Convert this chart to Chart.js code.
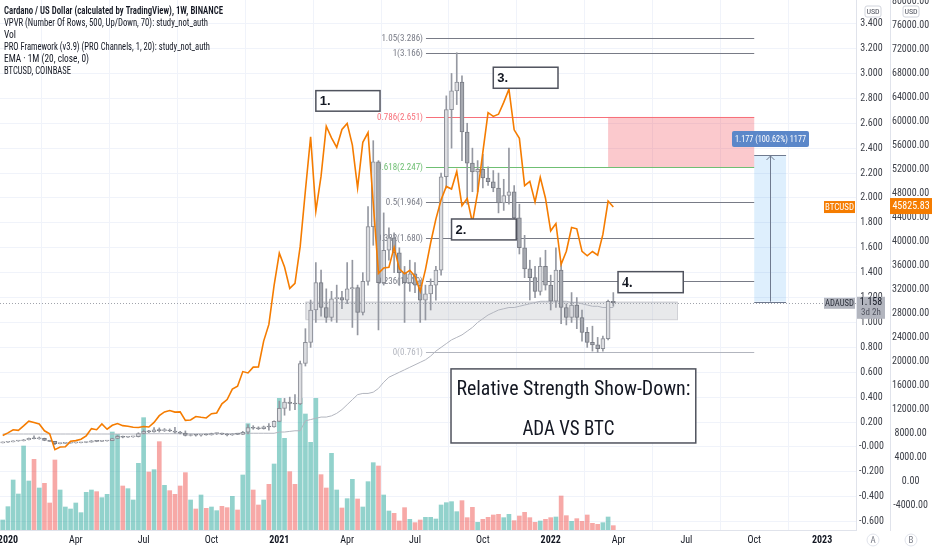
<!DOCTYPE html>
<html lang="en">
<head>
<meta charset="UTF-8">
<title>Cardano / US Dollar - Relative Strength Show-Down</title>
<script src="https://cdn.jsdelivr.net/npm/chart.js@4.4.1/dist/chart.umd.min.js"></script>
<style>
  html, body { margin: 0; padding: 0; background: #ffffff; }
  #chart { display: block; }
</style>
</head>
<body>
<canvas id="chart" width="932" height="550"></canvas>
<script>
// weekly bars, week index 0 = week of 30 Dec 2019 ... 117 = week of 28 Mar 2022
var adaOpen = [0.033, 0.038, 0.041, 0.048, 0.050, 0.058, 0.069, 0.066, 0.070, 0.052,
  0.045, 0.027, 0.029, 0.031, 0.033, 0.034, 0.036, 0.039, 0.049, 0.045,
  0.048, 0.051, 0.068, 0.086, 0.078, 0.081, 0.083, 0.108, 0.126, 0.121,
  0.138, 0.131, 0.135, 0.128, 0.119, 0.111, 0.092, 0.099, 0.094, 0.097,
  0.096, 0.108, 0.110, 0.103, 0.096, 0.104, 0.101, 0.118, 0.155, 0.150,
  0.146, 0.162, 0.160, 0.206, 0.310, 0.360, 0.350, 0.345, 0.670, 0.840,
  1.100, 1.320, 1.120, 1.040, 1.190, 1.200, 1.180, 1.270, 1.280, 1.080,
  1.330, 1.770, 2.290, 1.320, 1.580, 1.680, 1.560, 1.400, 1.320, 1.390,
  1.300, 1.180, 1.230, 1.300, 1.420, 2.170, 2.710, 2.860, 2.930, 2.530,
  2.280, 2.210, 2.230, 2.160, 2.130, 2.080, 1.960, 2.020, 2.050, 1.840,
  1.600, 1.430, 1.360, 1.250, 1.450, 1.300, 1.170, 1.420, 1.120, 1.040,
  1.140, 1.040, 0.920, 0.840, 0.820, 0.790, 0.870, 1.170];
var adaHigh = [0.040, 0.042, 0.050, 0.052, 0.060, 0.072, 0.090, 0.080, 0.071, 0.054,
  0.046, 0.032, 0.033, 0.035, 0.036, 0.037, 0.040, 0.052, 0.051, 0.050,
  0.053, 0.070, 0.092, 0.088, 0.085, 0.086, 0.114, 0.138, 0.133, 0.155,
  0.153, 0.148, 0.145, 0.157, 0.125, 0.129, 0.104, 0.101, 0.099, 0.105,
  0.111, 0.114, 0.111, 0.108, 0.107, 0.107, 0.125, 0.179, 0.171, 0.162,
  0.168, 0.187, 0.210, 0.368, 0.390, 0.400, 0.420, 0.690, 0.950, 1.180,
  1.480, 1.420, 1.270, 1.250, 1.300, 1.250, 1.480, 1.500, 1.300, 1.400,
  1.930, 2.460, 2.300, 1.880, 1.760, 1.720, 1.600, 1.450, 1.500, 1.480,
  1.340, 1.300, 1.350, 1.450, 2.200, 2.820, 3.000, 3.166, 2.980, 2.600,
  2.400, 2.300, 2.350, 2.250, 2.220, 2.200, 2.150, 2.400, 2.100, 1.950,
  1.700, 1.500, 1.450, 1.520, 1.580, 1.380, 1.600, 1.480, 1.150, 1.240,
  1.200, 1.100, 0.960, 0.970, 0.880, 0.890, 1.180, 1.240];
var adaLow = [0.032, 0.037, 0.040, 0.045, 0.048, 0.056, 0.064, 0.062, 0.050, 0.044,
  0.018, 0.024, 0.026, 0.030, 0.031, 0.032, 0.034, 0.038, 0.042, 0.043,
  0.047, 0.050, 0.066, 0.073, 0.076, 0.078, 0.080, 0.105, 0.115, 0.118,
  0.120, 0.124, 0.123, 0.110, 0.105, 0.088, 0.088, 0.087, 0.086, 0.094,
  0.095, 0.100, 0.099, 0.088, 0.093, 0.099, 0.100, 0.105, 0.142, 0.140,
  0.143, 0.134, 0.158, 0.205, 0.255, 0.294, 0.300, 0.340, 0.650, 0.800,
  1.000, 1.050, 1.000, 1.010, 1.000, 1.110, 1.150, 0.960, 0.900, 1.060,
  1.300, 1.620, 0.940, 1.300, 1.500, 1.400, 1.300, 1.000, 1.250, 1.240,
  1.000, 1.020, 1.100, 1.180, 1.380, 2.080, 2.400, 2.750, 2.300, 1.950,
  2.050, 2.050, 2.080, 2.100, 2.050, 1.880, 1.900, 1.950, 1.780, 1.550,
  1.360, 1.180, 1.200, 1.220, 1.260, 1.100, 1.120, 0.990, 0.980, 1.000,
  0.950, 0.850, 0.800, 0.770, 0.761, 0.770, 0.860, 1.130];
var adaClose = [0.038, 0.041, 0.048, 0.050, 0.058, 0.069, 0.066, 0.070, 0.052, 0.045,
  0.027, 0.029, 0.031, 0.033, 0.034, 0.036, 0.039, 0.049, 0.045, 0.048,
  0.051, 0.068, 0.086, 0.078, 0.081, 0.083, 0.108, 0.126, 0.121, 0.138,
  0.131, 0.135, 0.128, 0.119, 0.111, 0.092, 0.099, 0.094, 0.097, 0.096,
  0.108, 0.110, 0.103, 0.096, 0.104, 0.101, 0.118, 0.155, 0.150, 0.146,
  0.162, 0.160, 0.206, 0.310, 0.360, 0.350, 0.345, 0.670, 0.840, 1.100,
  1.320, 1.120, 1.040, 1.190, 1.200, 1.180, 1.270, 1.280, 1.080, 1.330,
  1.770, 2.290, 1.320, 1.580, 1.680, 1.560, 1.400, 1.320, 1.390, 1.300,
  1.180, 1.230, 1.300, 1.420, 2.170, 2.710, 2.860, 2.930, 2.530, 2.280,
  2.210, 2.230, 2.160, 2.130, 2.080, 1.960, 2.020, 2.050, 1.840, 1.600,
  1.430, 1.360, 1.250, 1.450, 1.300, 1.170, 1.420, 1.120, 1.040, 1.140,
  1.040, 0.920, 0.840, 0.820, 0.790, 0.870, 1.170, 1.158];
var adaVolume = [30, 70, 150, 108, 252, 147, 212, 126, 140, 81,
  210, 120, 69, 63, 81, 52, 113, 120, 115, 97,
  107, 294, 287, 132, 124, 90, 200, 337, 174, 181,
  265, 134, 118, 107, 132, 172, 90, 63, 105, 65,
  69, 58, 71, 67, 101, 60, 165, 319, 120, 75,
  90, 137, 198, 395, 275, 175, 137, 395, 348, 263,
  395, 166, 126, 230, 120, 66, 94, 152, 93, 69,
  145, 202, 192, 105, 57, 50, 27, 67, 32, 22,
  30, 38, 38, 33, 75, 82, 85, 55, 88, 37,
  68, 23, 32, 38, 45, 47, 37, 47, 28, 42,
  53, 37, 23, 27, 32, 37, 39, 102, 43, 26,
  34, 26, 45, 20, 17, 22, 39, 13];
// EMA 1M (20, close) of ADA, sampled on the weekly bars
var adaEma = [0.104, 0.104, 0.104, 0.104, 0.104, 0.104, 0.104, 0.104, 0.104, 0.104,
  0.104, 0.104, 0.104, 0.104, 0.104, 0.104, 0.104, 0.104, 0.104, 0.104,
  0.104, 0.104, 0.104, 0.104, 0.104, 0.104, 0.104, 0.106, 0.106, 0.106,
  0.106, 0.106, 0.106, 0.106, 0.106, 0.106, 0.106, 0.106, 0.106, 0.106,
  0.106, 0.106, 0.106, 0.106, 0.106, 0.110, 0.110, 0.110, 0.110, 0.110,
  0.110, 0.110, 0.110, 0.120, 0.120, 0.125, 0.130, 0.130, 0.210, 0.220,
  0.230, 0.240, 0.240, 0.250, 0.270, 0.300, 0.340, 0.380, 0.420, 0.430,
  0.430, 0.440, 0.470, 0.520, 0.560, 0.580, 0.600, 0.620, 0.640, 0.660,
  0.680, 0.700, 0.730, 0.770, 0.800, 0.830, 0.860, 0.880, 0.900, 0.930,
  0.960, 1.000, 1.030, 1.060, 1.080, 1.100, 1.110, 1.120, 1.120, 1.130,
  1.140, 1.150, 1.160, 1.170, 1.170, 1.170, 1.170, 1.170, 1.170, 1.160,
  1.160, 1.150, 1.140, 1.130, 1.130, 1.120, 1.120, 1.120];
// BTCUSD (Coinbase) weekly close
var btcClose = [7760, 8180, 8700, 8600, 9340, 10140, 9900, 9670, 8530, 8040,
  5390, 5830, 5880, 6780, 6900, 7120, 7700, 8900, 8720, 9670,
  8790, 9450, 9750, 9390, 9300, 9120, 9080, 9250, 9170, 9930,
  11060, 11680, 11910, 11650, 11680, 10280, 10330, 10920, 10780, 10670,
  11380, 11500, 13030, 13740, 15480, 15960, 18400, 18180, 19150, 19170,
  23480, 26270, 32780, 38150, 35830, 32260, 33110, 39270, 48580, 57540,
  45140, 50970, 59300, 57350, 55780, 58760, 59770, 56150, 49010, 56620,
  58230, 46430, 34770, 35680, 35800, 39100, 35510, 34700, 35290, 34260,
  31780, 35400, 39870, 43810, 47050, 49260, 48830, 51750, 46060, 47270,
  43210, 48230, 54970, 61550, 60930, 61300, 63270, 65470, 58700, 57270,
  49400, 50100, 46680, 50780, 47300, 41860, 43080, 36270, 38470, 42410,
  42200, 38430, 37700, 38420, 37800, 41260, 46820, 45825.83];

// time axis: first weekly bar of each labelled month
var tickWeeks = [1, 14, 27, 40, 53, 66, 79, 92, 105, 118, 131, 144, 157];
var tickLabels = ['2020', 'Apr', 'Jul', 'Oct', '2021', 'Apr', 'Jul', 'Oct', '2022', 'Apr', 'Jul', 'Oct', '2023'];
var adaTicks = [-0.6, -0.4, -0.2, 0, 0.2, 0.4, 0.6, 0.8, 1.0, 1.2, 1.4, 1.6, 1.8, 2.0, 2.2, 2.4, 2.6, 2.8, 3.0, 3.2, 3.4];
var btcTicks = [-4000, 0, 4000, 8000, 12000, 16000, 20000, 24000, 28000, 32000, 36000, 40000,
  44000, 48000, 52000, 56000, 60000, 64000, 68000, 72000, 76000, 80000];

// fib retracement drawn on the chart
var fibRatios = [1.05, 1, 0.786, 0.618, 0.5, 0.382, 0.236, 0];
var fibPrices = [3.286, 3.166, 2.651, 2.247, 1.964, 1.680, 1.329, 0.761];

var legendLines = [
  'Cardano / US Dollar (calculated by TradingView), 1W, BINANCE',
  'VPVR (Number Of Rows, 500, Up/Down, 70): study_not_auth',
  'Vol',
  'PRO Framework (v3.9) (PRO Channels, 1, 20): study_not_auth',
  'EMA \u00b7 1M (20, close, 0)',
  'BTCUSD, COINBASE'
];

// drawings, placed in (week, price) units
var drawings = {
  zone: { from: 58, to: 129.2, low: 1.026, high: 1.167 },
  target: { from: 116, to: 144, low: 2.247, high: 2.651 },
  measure: { from: 144, to: 150.1, low: 1.167, high: 2.345, text: '1.177 (100.62%) 1177' },
  fib: { from: 81.1, to: 144 },
  notes: [
    { text: '1.', from: 60.0, to: 72.3, top: 2.862, bottom: 2.697 },
    { text: '2.', from: 86.0, to: 98.4, top: 1.831, bottom: 1.663 },
    { text: '3.', from: 94.0, to: 106.4, top: 3.050, bottom: 2.881 },
    { text: '4.', from: 117.9, to: 130.4, top: 1.408, bottom: 1.239, serif: true }
  ],
  banner: { from: 85.9, to: 132.8, top: 0.627, bottom: 0.032,
    lines: ['Relative Strength Show-Down:', 'ADA VS BTC'] }
};

var fibColors = ['#787b86', '#787b86', '#f7707a', '#6fbf73', '#787b86', '#787b86', '#787b86', '#b2b5be'];
var NARROW = "'Liberation Sans Narrow', 'Roboto Condensed', Roboto, sans-serif";

function isUp(i) { return adaClose[i] >= adaOpen[i]; }

// scales must not reserve room for their end labels: the plot fills the canvas
function noPad(s) { s.paddingTop = 0; s.paddingBottom = 0; s.paddingLeft = 0; s.paddingRight = 0; }

var overlay = {
  id: 'overlay',
  beforeDatasetsDraw: function (chart) {
    var ctx = chart.ctx, a = chart.chartArea;
    var sx = chart.scales.x, sy = chart.scales.ada;
    ctx.save();
    ctx.beginPath();
    ctx.rect(a.left, a.top, a.right - a.left, a.bottom - a.top);
    ctx.clip();

    // support zone
    var z = drawings.zone;
    var zx0 = sx.getPixelForValue(z.from), zx1 = sx.getPixelForValue(z.to);
    var zy0 = sy.getPixelForValue(z.high), zy1 = sy.getPixelForValue(z.low);
    ctx.fillStyle = 'rgba(178,181,190,0.30)';
    ctx.fillRect(zx0, zy0, zx1 - zx0, zy1 - zy0);
    ctx.strokeStyle = 'rgba(150,153,163,0.45)';
    ctx.lineWidth = 1;
    ctx.strokeRect(zx0 + 0.5, zy0 + 0.5, zx1 - zx0, zy1 - zy0);

    // target zone
    var t = drawings.target;
    var tx0 = sx.getPixelForValue(t.from), tx1 = sx.getPixelForValue(t.to);
    var ty0 = sy.getPixelForValue(t.high), ty1 = sy.getPixelForValue(t.low);
    ctx.fillStyle = 'rgba(242,54,69,0.27)';
    ctx.fillRect(tx0, ty0, tx1 - tx0, ty1 - ty0);

    // fib levels
    var fx0 = sx.getPixelForValue(drawings.fib.from), fx1 = sx.getPixelForValue(drawings.fib.to);
    ctx.font = '9px ' + NARROW;
    ctx.textAlign = 'right';
    ctx.textBaseline = 'middle';
    fibRatios.forEach(function (r, k) {
      var y = Math.round(sy.getPixelForValue(fibPrices[k])) + 0.5;
      ctx.strokeStyle = fibColors[k];
      ctx.beginPath();
      ctx.moveTo(fx0, y);
      ctx.lineTo(fx1, y);
      ctx.stroke();
      ctx.fillStyle = fibColors[k];
      ctx.fillText(r + '(' + fibPrices[k].toFixed(3) + ')', fx0 - 3, y);
    });

    // last price line
    var py = Math.round(sy.getPixelForValue(adaClose[adaClose.length - 1])) + 0.5;
    ctx.setLineDash([1, 2]);
    ctx.strokeStyle = '#a0a3ab';
    ctx.beginPath();
    ctx.moveTo(a.left, py);
    ctx.lineTo(a.right, py);
    ctx.stroke();
    ctx.setLineDash([]);
    ctx.restore();
  },
  afterDatasetsDraw: function (chart) {
    var ctx = chart.ctx, a = chart.chartArea;
    var sx = chart.scales.x, sy = chart.scales.ada;
    ctx.save();

    // price range measure
    var m = drawings.measure;
    var mx0 = sx.getPixelForValue(m.from), mx1 = sx.getPixelForValue(m.to);
    var my0 = sy.getPixelForValue(m.high), my1 = sy.getPixelForValue(m.low);
    var mxc = Math.round((mx0 + mx1) / 2) + 0.5;
    ctx.fillStyle = 'rgba(33,150,243,0.15)';
    ctx.fillRect(mx0, my0, mx1 - mx0, my1 - my0);
    ctx.strokeStyle = '#6f7a8f';
    ctx.lineWidth = 1;
    ctx.beginPath();
    ctx.moveTo(mx0, Math.round(my0) + 0.5); ctx.lineTo(mx1, Math.round(my0) + 0.5);
    ctx.moveTo(mx0, Math.round(my1) + 0.5); ctx.lineTo(mx1, Math.round(my1) + 0.5);
    ctx.moveTo(mxc, my1); ctx.lineTo(mxc, my0 + 1);
    ctx.moveTo(mxc - 4, my0 + 5); ctx.lineTo(mxc, my0 + 1); ctx.lineTo(mxc + 4, my0 + 5);
    ctx.stroke();
    ctx.font = '9px ' + NARROW;
    var lw = 77, lh = 16;
    ctx.fillStyle = '#5b87c9';
    roundRect(ctx, mxc - lw / 2, my0 - 24, lw, lh, 2);
    ctx.fill();
    ctx.fillStyle = '#ffffff';
    ctx.textAlign = 'center';
    ctx.textBaseline = 'middle';
    ctx.fillText(m.text, mxc, my0 - 24 + lh / 2 + 0.5, lw - 6);

    // numbered notes
    drawings.notes.forEach(function (n) {
      var x0 = sx.getPixelForValue(n.from), x1 = sx.getPixelForValue(n.to);
      var y0 = sy.getPixelForValue(n.top), y1 = sy.getPixelForValue(n.bottom);
      ctx.fillStyle = '#ffffff';
      ctx.fillRect(x0, y0, x1 - x0, y1 - y0);
      ctx.strokeStyle = '#50535e';
      ctx.lineWidth = 1.5;
      ctx.strokeRect(x0, y0, x1 - x0, y1 - y0);
      ctx.fillStyle = '#131722';
      ctx.font = n.serif ? "bold 14px 'Liberation Serif', serif" : "bold 13px 'Liberation Sans', Arial, sans-serif";
      ctx.textAlign = 'left';
      ctx.textBaseline = 'middle';
      ctx.fillText(n.text, x0 + 4, (y0 + y1) / 2 + 1);
    });

    // banner
    var b = drawings.banner;
    var bx0 = sx.getPixelForValue(b.from), bx1 = sx.getPixelForValue(b.to);
    var by0 = sy.getPixelForValue(b.top), by1 = sy.getPixelForValue(b.bottom);
    ctx.fillStyle = '#ffffff';
    ctx.fillRect(bx0, by0, bx1 - bx0, by1 - by0);
    ctx.strokeStyle = '#50535e';
    ctx.lineWidth = 1.5;
    ctx.strokeRect(bx0, by0, bx1 - bx0, by1 - by0);
    ctx.fillStyle = '#131722';
    ctx.font = '20px ' + NARROW;
    ctx.textAlign = 'center';
    ctx.textBaseline = 'alphabetic';
    var bc = (bx0 + bx1) / 2;
    ctx.fillText(b.lines[0], bc, by0 + 26, 234);
    ctx.fillText(b.lines[1], bc - 5, by0 + 66, 92);

    // pane price labels
    var btcY = chart.scales.btc.getPixelForValue(btcClose[btcClose.length - 1]);
    var adaY = sy.getPixelForValue(adaClose[adaClose.length - 1]);
    ctx.font = '9px ' + NARROW;
    ctx.textAlign = 'center';
    ctx.textBaseline = 'middle';
    ctx.fillStyle = '#f57c00';
    ctx.fillRect(a.right - 32, btcY - 6, 31, 12);
    ctx.fillStyle = '#ffffff';
    ctx.fillText('BTCUSD', a.right - 16.5, btcY + 0.5, 29);
    ctx.fillStyle = '#b2b5be';
    ctx.fillRect(a.right - 32, adaY - 5, 31, 11);
    ctx.fillStyle = '#2a2e39';
    ctx.fillText('ADAUSD', a.right - 16.5, adaY + 0.5, 29);
    ctx.restore();
  },
  afterDraw: function (chart) {
    var ctx = chart.ctx;
    var ya = chart.scales.ada, yb = chart.scales.btc;
    ctx.save();
    ctx.textAlign = 'center';
    ctx.textBaseline = 'middle';

    // axis price labels
    var btcY = yb.getPixelForValue(btcClose[btcClose.length - 1]);
    ctx.fillStyle = '#f57c00';
    ctx.fillRect(yb.left, btcY - 9, yb.right - yb.left, 16);
    ctx.fillStyle = '#ffffff';
    ctx.font = '10px ' + NARROW;
    ctx.fillText(btcClose[btcClose.length - 1].toFixed(2), (yb.left + yb.right) / 2, btcY - 1, 38);

    var adaY = ya.getPixelForValue(adaClose[adaClose.length - 1]);
    ctx.fillStyle = '#b2b5be';
    ctx.fillRect(ya.left + 1, adaY - 6, ya.right - ya.left - 6, 22);
    ctx.fillStyle = '#131722';
    ctx.fillText(adaClose[adaClose.length - 1].toFixed(3), (ya.left + ya.right) / 2 - 2, adaY, 26);
    ctx.fillStyle = '#50535e';
    ctx.font = '9px ' + NARROW;
    ctx.fillText('3d 2h', (ya.left + ya.right) / 2 - 2, adaY + 10, 26);

    // currency tags on the axes
    [ya, yb].forEach(function (s) {
      var cx = (s.left + s.right) / 2;
      ctx.fillStyle = '#ffffff';
      roundRect(ctx, cx - 8, 6, 16, 11, 2);
      ctx.fill();
      ctx.strokeStyle = '#d1d4dc';
      ctx.lineWidth = 1;
      ctx.stroke();
      ctx.fillStyle = '#50535e';
      ctx.font = '8px ' + NARROW;
      ctx.fillText('USD', cx, 12, 14);
      // scale mode buttons under the axes
      ctx.beginPath();
      ctx.arc(cx, 540, 6, 0, Math.PI * 2);
      ctx.fillStyle = '#ffffff';
      ctx.fill();
      ctx.strokeStyle = '#e0e3eb';
      ctx.stroke();
      ctx.fillStyle = '#787b86';
      ctx.font = '9px ' + NARROW;
      ctx.fillText(s === ya ? 'A' : 'B', cx, 540.5);
    });

    // study legend
    ctx.textAlign = 'left';
    ctx.textBaseline = 'middle';
    var widths = [219, 204, 12, 206, 85, 67];
    legendLines.forEach(function (txt, k) {
      ctx.font = (k === 0 ? '600 ' : '') + '10px ' + NARROW;
      ctx.fillStyle = '#131722';
      ctx.fillText(txt, 4, 11.7 + k * 12, widths[k]);
    });
    ctx.restore();
  }
};

function roundRect(ctx, x, y, w, h, r) {
  ctx.beginPath();
  ctx.moveTo(x + r, y);
  ctx.lineTo(x + w - r, y);
  ctx.quadraticCurveTo(x + w, y, x + w, y + r);
  ctx.lineTo(x + w, y + h - r);
  ctx.quadraticCurveTo(x + w, y + h, x + w - r, y + h);
  ctx.lineTo(x + r, y + h);
  ctx.quadraticCurveTo(x, y + h, x, y + h - r);
  ctx.lineTo(x, y + r);
  ctx.quadraticCurveTo(x, y, x + r, y);
  ctx.closePath();
}

Chart.defaults.font.family = NARROW;
Chart.defaults.font.size = 10;
Chart.defaults.color = '#131722';

var ctx = document.getElementById('chart').getContext('2d');
var chart = new Chart(ctx, {
  type: 'bar',
  data: {
    datasets: [
      {
        type: 'line',
        label: 'BTCUSD',
        data: btcClose.map(function (v, i) { return { x: i, y: v }; }),
        yAxisID: 'btc',
        borderColor: '#f57c00',
        borderWidth: 1.6,
        pointRadius: 0,
        tension: 0,
        order: 0
      },
      {
        label: 'ADA body',
        data: adaOpen.map(function (o, i) { return { x: i, y: [o, adaClose[i]] }; }),
        yAxisID: 'ada',
        grouped: false,
        barThickness: 4,
        minBarLength: 1,
        borderSkipped: false,
        borderWidth: 1,
        backgroundColor: adaOpen.map(function (o, i) { return isUp(i) ? '#dcdde1' : '#a6a9b0'; }),
        borderColor: adaOpen.map(function (o, i) { return isUp(i) ? '#8c8f97' : '#787b84'; }),
        order: 1
      },
      {
        label: 'ADA wick',
        data: adaLow.map(function (l, i) { return { x: i, y: [l, adaHigh[i]] }; }),
        yAxisID: 'ada',
        grouped: false,
        barThickness: 1,
        backgroundColor: '#9598a1',
        order: 2
      },
      {
        type: 'line',
        label: 'EMA 1M',
        data: adaEma.map(function (v, i) { return { x: i, y: v }; }),
        yAxisID: 'ada',
        borderColor: '#b2b5be',
        borderWidth: 1,
        pointRadius: 0,
        tension: 0,
        order: 3
      },
      {
        label: 'Vol',
        data: adaVolume.map(function (v, i) { return { x: i, y: v }; }),
        yAxisID: 'vol',
        grouped: false,
        barThickness: 4,
        backgroundColor: adaVolume.map(function (v, i) { return isUp(i) ? 'rgba(38,166,154,0.5)' : 'rgba(239,83,80,0.5)'; }),
        order: 4
      }
    ]
  },
  options: {
    responsive: false,
    animation: false,
    events: [],
    layout: { padding: 0, autoPadding: false },
    plugins: { legend: { display: false }, tooltip: { enabled: false } },
    scales: {
      x: {
        type: 'linear',
        min: -0.52,
        max: 163.5,
        offset: false,
        afterBuildTicks: function (s) { s.ticks = tickWeeks.map(function (v) { return { value: v }; }); },
        afterFit: function (s) { s.height = 20; noPad(s); },
        ticks: {
          autoSkip: false,
          maxRotation: 0,
          padding: 4,
          color: '#131722',
          font: function (c) { return { size: 10, weight: /^\d{4}$/.test(tickLabels[c.index]) ? 'bold' : 'normal' }; },
          callback: function (v, idx) { return tickLabels[idx]; }
        },
        grid: { color: '#f0f3fa', drawTicks: false },
        border: { color: '#e0e3eb' }
      },
      ada: {
        position: 'right',
        min: -0.667,
        max: 3.59,
        afterBuildTicks: function (s) { s.ticks = adaTicks.map(function (v) { return { value: v }; }); },
        afterFit: function (s) { s.width = 34; noPad(s); },
        ticks: {
          crossAlign: 'center',
          padding: 3,
          color: '#3b3e47',
          font: { size: 10 },
          callback: function (v) { return v === 0 ? '-0.000' : v.toFixed(3); }
        },
        grid: { color: '#f0f3fa', drawTicks: false },
        border: { color: '#e0e3eb' }
      },
      btc: {
        position: 'right',
        min: -8000,
        max: 80333,
        afterBuildTicks: function (s) { s.ticks = btcTicks.map(function (v) { return { value: v }; }); },
        afterFit: function (s) { s.width = 42; noPad(s); },
        ticks: {
          crossAlign: 'center',
          padding: 2,
          color: '#3b3e47',
          font: { size: 10 },
          callback: function (v) { return v.toFixed(2); }
        },
        grid: { display: false, drawTicks: false },
        border: { color: '#e0e3eb' }
      },
      vol: { display: false, min: 0, max: 1590 }
    }
  },
  plugins: [overlay]
});
</script>
</body>
</html>
